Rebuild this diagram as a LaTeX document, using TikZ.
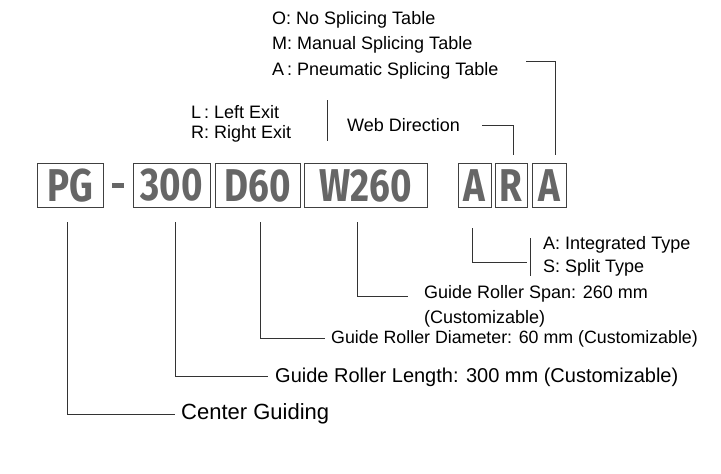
\documentclass[tikz,border=0pt]{standalone}
\usepackage{fontspec}
\setmainfont{Liberation Sans}
\newfontfamily\bigf{Fira Sans}
\newcommand{\nar}[1]{\scalebox{0.8}[1]{#1}}
\begin{document}
\begin{tikzpicture}[x=1pt,y=-1pt,
  cbox/.style={draw=black!75,line width=1pt,inner sep=0pt,minimum height=44pt,text=black!60,font=\bigf\bfseries\fontsize{46}{46}\selectfont},
  ln/.style={draw=black!80,line width=1pt},
  lab/.style={anchor=west,inner sep=0pt,font=\fontsize{18}{18}\selectfont}]
\useasboundingbox (0,0) rectangle (721,474);
\node[cbox,minimum width=66pt] (pg) at (70,185.5) {\nar{PG}};
\coordinate (d1) at (112,185); \coordinate (d2) at (124,185);
\draw[black!60,line width=5pt] (d1) -- (d2);
\node[cbox,minimum width=77pt] (b300) at (171.5,185.5) {\nar{300}};
\node[cbox,minimum width=85pt] (d60) at (257.5,185.5) {\nar{D60}};
\node[cbox,minimum width=123pt] (w260) at (365.5,185.5) {\nar{W260}};
\node[cbox,minimum width=33pt] (a1) at (474.5,185.5) {\nar{A}};
\node[cbox,minimum width=32pt] (r) at (511,185.5) {\nar{R}};
\node[cbox,minimum width=34pt] (a2) at (549,185.5) {\nar{A}};
% top labels
\node[lab] (o) at (272,20) {O:\ No Splicing Table};
\node[lab] (m) at (272,45) {M:\ Manual Splicing Table};
\node[lab] (pa) at (272,71) {A\,:\ Pneumatic Splicing Table};
\node[lab] (l) at (191,112) {L\,:\ Left Exit};
\node[lab] (rr) at (191,134) {R:\ Right Exit};
\node[lab] (web) at (347,125) {Web Direction};
\coordinate (b1) at (327,100); \coordinate (b2) at (327,141);
\draw[ln] (b1) -- (b2);
\coordinate (w1) at (482,125); \coordinate (w2) at (513,125); \coordinate (w3) at (513,155);
\draw[ln] (w1) -- (w2) -- (w3);
\coordinate (p1) at (526,61); \coordinate (p2) at (555,61); \coordinate (p3) at (555,155);
\draw[ln] (p1) -- (p2) -- (p3);
% bottom
\node[lab,font=\fontsize{22}{22}\selectfont] (cg) at (181,414) {Center Guiding};
\coordinate (c1) at (67,222); \coordinate (c2) at (67,414); \coordinate (c3) at (175,414);
\draw[ln] (c1) -- (c2) -- (c3);
\node[lab,font=\fontsize{20}{20}\selectfont] (gl) at (275,377) {Guide Roller Length: 300 mm (Customizable)};
\coordinate (e1) at (175,222); \coordinate (e2) at (175,376); \coordinate (e3) at (268,376);
\draw[ln] (e1) -- (e2) -- (e3);
\node[lab,font=\fontsize{17.8}{17.8}\selectfont] (gd) at (331,339) {Guide Roller Diameter: 60 mm (Customizable)};
\coordinate (f1) at (260,222); \coordinate (f2) at (260,338); \coordinate (f3) at (325,338);
\draw[ln] (f1) -- (f2) -- (f3);
\node[lab] (gs) at (424,294) {Guide Roller Span: 260 mm};
\node[lab] (gs2) at (424,319) {(Customizable)};
\coordinate (g1) at (357,222); \coordinate (g2) at (357,296); \coordinate (g3) at (408,296);
\draw[ln] (g1) -- (g2) -- (g3);
\coordinate (h1) at (472,228); \coordinate (h2) at (472,262); \coordinate (h3) at (527,262);
\draw[ln] (h1) -- (h2) -- (h3);
\coordinate (k1) at (530,238); \coordinate (k2) at (530,276);
\draw[ln] (k1) -- (k2);
\node[lab] (it) at (543,245) {A:\ Integrated Type};
\node[lab] (st) at (543,268) {S:\ Split Type};
\end{tikzpicture}
\end{document}
